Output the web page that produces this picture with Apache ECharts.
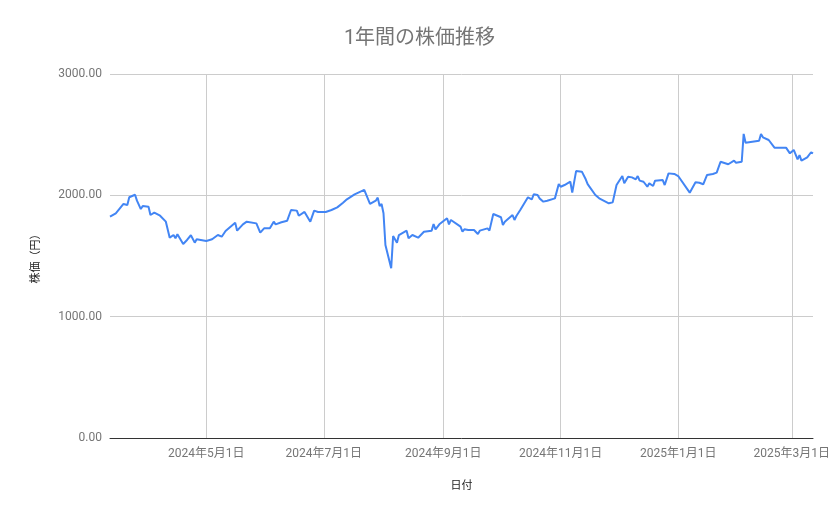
<!DOCTYPE html>
<html>
<head>
<meta charset="utf-8">
<script src="https://cdn.jsdelivr.net/npm/echarts@6/dist/echarts.min.js"></script>
<style>
  html, body { margin: 0; padding: 0; background: #ffffff; }
  #chart { width: 839px; height: 519px; }
</style>
</head>
<body>
<div id="chart"></div>
<script>
const titleText = '1年間の株価推移';
const xAxisName = '日付';
const yAxisName = '株価（円）';

const dates = [
  '2024-03-12','2024-03-15','2024-03-19','2024-03-21','2024-03-22','2024-03-25','2024-03-26','2024-03-28','2024-03-29',
  '2024-04-01','2024-04-02','2024-04-04','2024-04-07','2024-04-10','2024-04-12','2024-04-14','2024-04-15','2024-04-16',
  '2024-04-19','2024-04-21','2024-04-23','2024-04-25','2024-04-26',
  '2024-05-01','2024-05-04','2024-05-07','2024-05-09','2024-05-11','2024-05-16','2024-05-17','2024-05-20','2024-05-22',
  '2024-05-23','2024-05-27','2024-05-29','2024-05-31',
  '2024-06-03','2024-06-05','2024-06-06','2024-06-09','2024-06-12','2024-06-14','2024-06-17','2024-06-18','2024-06-21',
  '2024-06-24','2024-06-26','2024-06-28',
  '2024-07-02','2024-07-03','2024-07-05','2024-07-08','2024-07-09','2024-07-11','2024-07-13','2024-07-17','2024-07-22',
  '2024-07-23','2024-07-25','2024-07-28','2024-07-29','2024-07-30','2024-07-31',
  '2024-08-01','2024-08-02','2024-08-05','2024-08-06','2024-08-08','2024-08-09','2024-08-13','2024-08-14','2024-08-16',
  '2024-08-19','2024-08-22','2024-08-26','2024-08-27','2024-08-28','2024-08-30',
  '2024-09-03','2024-09-04','2024-09-05','2024-09-10','2024-09-11','2024-09-12','2024-09-14','2024-09-17','2024-09-19',
  '2024-09-20','2024-09-24','2024-09-25','2024-09-27',
  '2024-10-01','2024-10-02','2024-10-03','2024-10-04','2024-10-07','2024-10-08','2024-10-09','2024-10-10','2024-10-11',
  '2024-10-15','2024-10-17','2024-10-18','2024-10-20','2024-10-21','2024-10-23','2024-10-25','2024-10-26','2024-10-29',
  '2024-10-31',
  '2024-11-01','2024-11-03','2024-11-06','2024-11-07','2024-11-09','2024-11-12','2024-11-14','2024-11-15','2024-11-16',
  '2024-11-19','2024-11-21','2024-11-22','2024-11-26','2024-11-28','2024-11-30',
  '2024-12-02','2024-12-03','2024-12-04','2024-12-06','2024-12-08','2024-12-10','2024-12-11','2024-12-12','2024-12-14',
  '2024-12-16','2024-12-17','2024-12-19','2024-12-20','2024-12-24','2024-12-25','2024-12-27','2024-12-30',
  '2025-01-01','2025-01-07','2025-01-08','2025-01-10','2025-01-12','2025-01-14','2025-01-16','2025-01-19','2025-01-21',
  '2025-01-23','2025-01-27','2025-01-30','2025-01-31',
  '2025-02-03','2025-02-04','2025-02-05','2025-02-06','2025-02-12','2025-02-13','2025-02-14','2025-02-17','2025-02-18',
  '2025-02-20','2025-02-26','2025-02-27','2025-02-28',
  '2025-03-02','2025-03-04','2025-03-05','2025-03-06','2025-03-09','2025-03-11','2025-03-12'
];

const prices = [
  1824,1852,1929,1920,1984,2005,1956,1887,1912,
  1906,1838,1857,1832,1783,1651,1673,1646,1679,
  1599,1632,1671,1610,1638,
  1624,1638,1673,1659,1706,1775,1709,1761,1783,
  1769,1769,1692,1728,
  1728,1783,1761,1778,1791,1879,1874,1832,1863,
  1783,1874,1863,
  1863,1852,1879,1901,1890,1939,1967,2008,2045,
  2058,1929,1956,1981,1912,1929,
  1852,1591,1399,1665,1610,1673,1709,1646,1673,
  1651,1700,1709,1764,1720,1761,
  1811,1761,1797,1742,1700,1720,1714,1714,1681,
  1709,1728,1709,1846,
  1819,1756,1783,1775,1838,1797,1830,1824,1879,
  1984,1967,2008,2003,1975,1948,1956,1942,1975,
  2093,
  2071,2085,2112,2022,2200,2195,2132,2092,2070,
  2003,1975,1962,1934,1942,2085,
  2135,2159,2099,2154,2148,2132,2159,2121,2112,
  2071,2099,2077,2121,2126,2085,2181,2176,
  2159,2022,2030,2107,2104,2091,2168,2176,2187,
  2277,2256,2286,2269,
  2277,2506,2434,2448,2450,2506,2478,2456,2464,
  2393,2393,2401,2346,
  2374,2297,2332,2286,2313,2355,2346
];

const xRange = ['2024-03-12', '2025-03-12'];
const xTickDates = ['2024-05-01', '2024-07-01', '2024-09-01', '2024-11-01', '2025-01-01', '2025-03-01'];
const yTicks = [0, 1000, 2000, 3000];

function ts(s) {
  const p = s.split('-').map(Number);
  return Date.UTC(p[0], p[1] - 1, p[2]);
}
function fmtDate(v) {
  const d = new Date(v);
  return d.getUTCFullYear() + '年' + (d.getUTCMonth() + 1) + '月' + d.getUTCDate() + '日';
}

const seriesData = dates.map((d, i) => [ts(d), prices[i]]);
const tickTs = xTickDates.map(ts);
const FONT = 'Roboto, "Noto Sans CJK JP", "Noto Sans", sans-serif';

const chart = echarts.init(document.getElementById('chart'), null, { renderer: 'canvas' });
chart.setOption({
  animation: false,
  backgroundColor: '#ffffff',
  title: {
    text: titleText,
    left: 'center',
    top: 24,
    textStyle: { fontFamily: FONT, fontSize: 20, fontWeight: 'normal', color: '#757575' }
  },
  grid: { left: 110, right: 26, top: 74, bottom: 81, containLabel: false },
  xAxis: {
    type: 'value',
    min: ts(xRange[0]),
    max: ts(xRange[1]),
    scale: true,
    name: xAxisName,
    nameLocation: 'middle',
    nameGap: 43,
    nameTextStyle: { fontFamily: FONT, fontSize: 11, color: '#222222' },
    axisLine: { show: true, lineStyle: { color: '#333333', width: 1 } },
    axisTick: { show: false, customValues: tickTs },
    axisLabel: {
      customValues: tickTs,
      formatter: v => fmtDate(v),
      fontFamily: FONT, fontSize: 12, color: '#757575', margin: 10
    },
    splitLine: { show: true, lineStyle: { color: '#cccccc', width: 1 } }
  },
  yAxis: {
    type: 'value',
    min: yTicks[0],
    max: yTicks[yTicks.length - 1],
    interval: 1000,
    name: yAxisName,
    nameLocation: 'middle',
    nameGap: 68,
    nameRotate: 90,
    nameTextStyle: { fontFamily: FONT, fontSize: 11, color: '#222222' },
    axisLine: { show: false },
    axisTick: { show: false },
    axisLabel: {
      formatter: v => v.toFixed(2),
      fontFamily: FONT, fontSize: 12, color: '#757575', margin: 8
    },
    splitLine: { show: true, lineStyle: { color: '#cccccc', width: 1 } }
  },
  series: [{
    type: 'line',
    data: seriesData,
    showSymbol: false,
    symbol: 'none',
    lineStyle: { color: '#4285f4', width: 2 },
    itemStyle: { color: '#4285f4' }
  }]
});
</script>
</body>
</html>
